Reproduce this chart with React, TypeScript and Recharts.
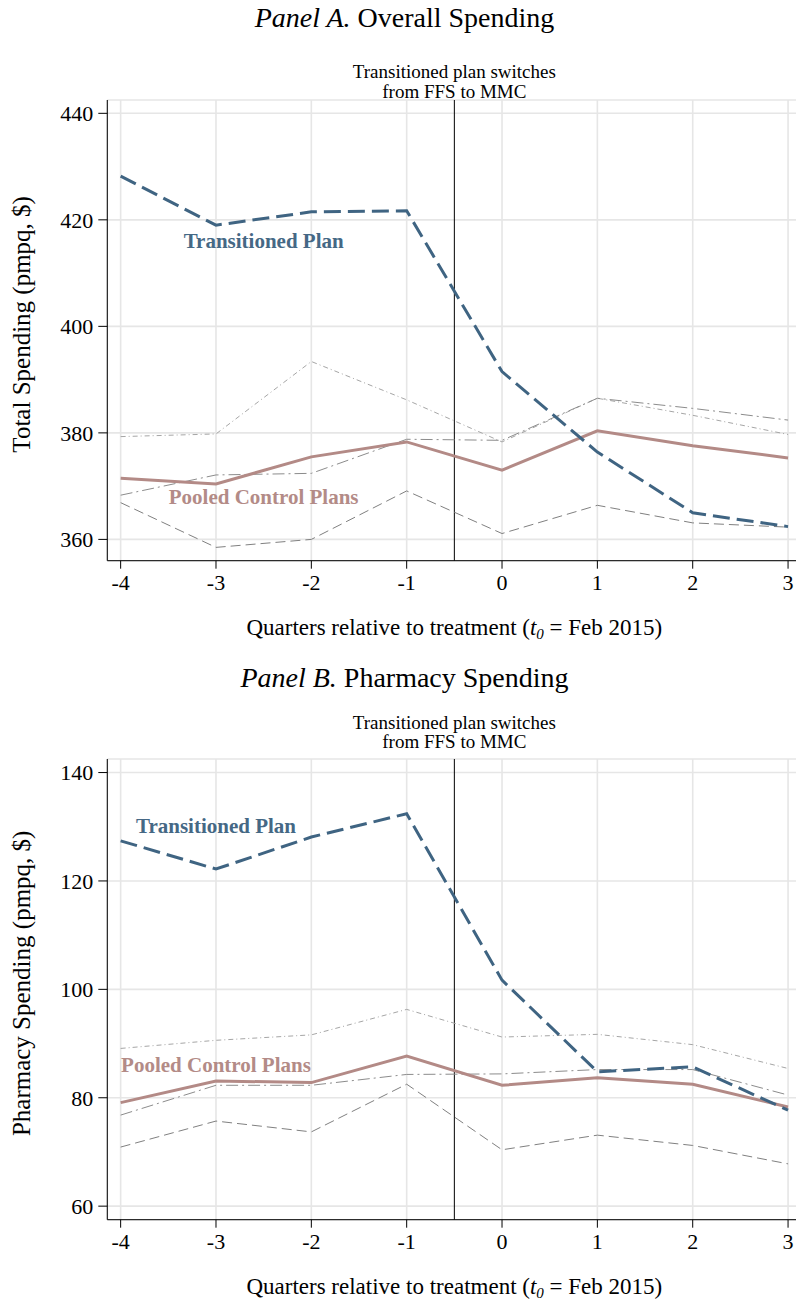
import React from 'react';
import { LineChart, Line, XAxis, YAxis, CartesianGrid, ReferenceLine, ReferenceDot } from 'recharts';

const quarters = [-4, -3, -2, -1, 0, 1, 2, 3];

// Panel A: Overall spending
const transA = [428.2, 419.0, 421.5, 421.7, 391.5, 376.4, 365.0, 362.4];
const pooledA = [371.5, 370.4, 375.5, 378.3, 373.0, 380.4, 377.6, 375.3];
const ctrl1A = [379.3, 379.8, 393.4, 386.2, 378.3, 386.5, 383.3, 379.7];
const ctrl2A = [368.3, 372.1, 372.4, 378.8, 378.6, 386.5, 384.6, 382.4];
const ctrl3A = [366.9, 358.5, 360.0, 369.1, 361.1, 366.4, 363.1, 362.3];
const yTicksA = [360, 380, 400, 420, 440];

// Panel B: Pharmacy spending
const transB = [127.4, 122.2, 128.1, 132.4, 101.7, 84.8, 85.7, 77.7];
const pooledB = [79.1, 83.1, 82.8, 87.7, 82.3, 83.7, 82.5, 78.3];
const ctrl1B = [89.1, 90.6, 91.6, 96.3, 91.2, 91.7, 89.8, 85.4];
const ctrl2B = [76.8, 82.3, 82.3, 84.3, 84.4, 85.2, 85.2, 80.5];
const ctrl3B = [70.9, 75.7, 73.7, 82.5, 70.4, 73.1, 71.2, 67.8];
const yTicksB = [60, 80, 100, 120, 140];

const FONT = "'Liberation Serif', 'Times New Roman', serif";
const BLUE = '#3f6482';
const PINK = '#b38a86';

const build = (t: number[], p: number[], c1: number[], c2: number[], c3: number[]) =>
  quarters.map((q, i) => ({ q, trans: t[i], pooled: p[i], c1: c1[i], c2: c2[i], c3: c3[i] }));

const dataA = build(transA, pooledA, ctrl1A, ctrl2A, ctrl3A);
const dataB = build(transB, pooledB, ctrl1B, ctrl2B, ctrl3B);

type PanelProps = {
  data: any[];
  yDomain: [number, number];
  yTicks: number[];
  yLabel: string;
  transPos: [number, number];
  pooledPos: [number, number];
  noteOffsets: [number, number];
};

const XTitle = (props: any) => {
  const vb = props.viewBox || {};
  const cx = vb.x + vb.width / 2;
  const y = vb.y + 74.3;
  return (
    <text x={cx} y={y} textAnchor="middle" fontFamily={FONT} fontSize={23} fill="#000">
      Quarters relative to treatment (
      <tspan fontStyle="italic">t</tspan>
      <tspan fontStyle="italic" fontSize={15} dy={4}>0</tspan>
      <tspan dy={-4}> = Feb 2015)</tspan>
    </text>
  );
};

const makeYTitle = (label: string) => (props: any) => {
  const vb = props.viewBox || {};
  const cy = vb.y + vb.height / 2 - 6;
  const x = 30;
  return (
    <text x={x} y={cy} transform={`rotate(-90, ${x}, ${cy})`} textAnchor="middle" fontFamily={FONT} fontSize={25} fill="#000">
      {label}
    </text>
  );
};

const makeSwitchLabel = (offsets: [number, number]) => (props: any) => {
  const vb = props.viewBox || {};
  return (
    <text x={vb.x} textAnchor="middle" fontFamily={FONT} fontSize={19} fill="#000">
      <tspan x={vb.x} y={vb.y - offsets[0]}>Transitioned plan switches</tspan>
      <tspan x={vb.x} y={vb.y - offsets[1]}>from FFS to MMC</tspan>
    </text>
  );
};

const Panel = ({ data, yDomain, yTicks, yLabel, transPos, pooledPos, noteOffsets }: PanelProps) => (
  <LineChart width={810} height={659} data={data} margin={{ top: 100, right: 8.6, left: 0, bottom: 0 }}>
    <CartesianGrid stroke="#e6e6e6" strokeWidth={1.6} />
    <XAxis
      dataKey="q"
      type="number"
      domain={[-4.14, 3.14]}
      ticks={quarters}
      interval={0}
      height={98.3}
      tickSize={8}
      tickMargin={6}
      axisLine={{ stroke: '#000', strokeWidth: 1 }}
      tickLine={{ stroke: '#000', strokeWidth: 1 }}
      tick={{ fontSize: 22, fill: '#000', fontFamily: FONT }}
      label={{ content: XTitle }}
    />
    <YAxis
      type="number"
      domain={yDomain}
      ticks={yTicks}
      interval={0}
      width={107.3}
      tickSize={9}
      tickMargin={5}
      axisLine={{ stroke: '#000', strokeWidth: 1 }}
      tickLine={{ stroke: '#000', strokeWidth: 1 }}
      tick={{ fontSize: 22, fill: '#000', fontFamily: FONT }}
      label={{ content: makeYTitle(yLabel) }}
    />
    <ReferenceLine x={-0.5} stroke="#000" strokeWidth={1} label={makeSwitchLabel(noteOffsets)} />
    <Line dataKey="c1" stroke="#a6a6a6" strokeWidth={1} strokeDasharray="5 3 1 3" dot={false} activeDot={false} isAnimationActive={false} />
    <Line dataKey="c2" stroke="#8c8c8c" strokeWidth={1} strokeDasharray="12 4 2 4" dot={false} activeDot={false} isAnimationActive={false} />
    <Line dataKey="c3" stroke="#808080" strokeWidth={1} strokeDasharray="10 5" dot={false} activeDot={false} isAnimationActive={false} />
    <Line dataKey="pooled" stroke={PINK} strokeWidth={3} dot={false} activeDot={false} isAnimationActive={false} />
    <Line dataKey="trans" stroke={BLUE} strokeWidth={3} strokeDasharray="17 7" dot={false} activeDot={false} isAnimationActive={false} />
    <ReferenceDot
      x={transPos[0]}
      y={transPos[1]}
      r={0}
      stroke="none"
      fill="none"
      label={{ value: 'Transitioned Plan', position: 'center', fill: '#456885', fontSize: 21, fontWeight: 'bold', fontFamily: FONT }}
    />
    <ReferenceDot
      x={pooledPos[0]}
      y={pooledPos[1]}
      r={0}
      stroke="none"
      fill="none"
      label={{ value: 'Pooled Control Plans', position: 'center', fill: '#b38b87', fontSize: 21, fontWeight: 'bold', fontFamily: FONT }}
    />
  </LineChart>
);

export default function App() {
  return (
    <div style={{ position: 'absolute', left: 0, top: 0, width: 796, height: 1300, overflow: 'hidden', background: '#fff' }}>
      <div style={{ position: 'absolute', left: 0, top: 0 }}>
        <Panel
          data={dataA}
          yDomain={[356, 442.5]}
          yTicks={yTicksA}
          yLabel="Total Spending (pmpq, $)"
          transPos={[-2.5, 416.2]}
          pooledPos={[-2.5, 368.1]}
          noteOffsets={[22, 2.5]}
        />
      </div>
      <div style={{ position: 'absolute', left: 0, top: 659 }}>
        <Panel
          data={dataB}
          yDomain={[57.5, 142.5]}
          yTicks={yTicksB}
          yLabel="Pharmacy Spending (pmpq, $)"
          transPos={[-3.0, 130.3]}
          pooledPos={[-3.0, 86.15]}
          noteOffsets={[30.5, 11]}
        />
      </div>
      <svg width={796} height={1300} style={{ position: 'absolute', left: 0, top: 0, pointerEvents: 'none' }}>
        <text x={404.5} y={27.4} textAnchor="middle" fontFamily={FONT} fontSize={28} fill="#000">
          <tspan fontStyle="italic">Panel A.</tspan> Overall Spending
        </text>
        <text x={404.5} y={686.7} textAnchor="middle" fontFamily={FONT} fontSize={28} fill="#000">
          <tspan fontStyle="italic">Panel B.</tspan> Pharmacy Spending
        </text>
      </svg>
    </div>
  );
}
